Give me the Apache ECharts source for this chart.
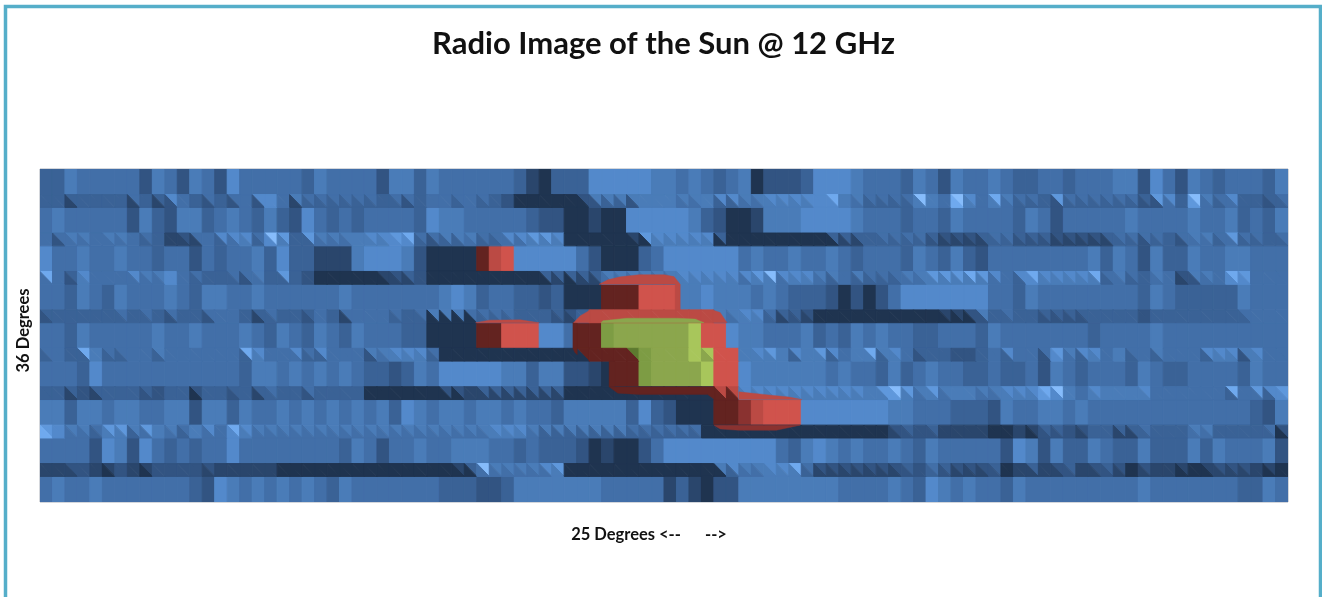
<!DOCTYPE html>
<html>
<head>
<meta charset="utf-8">
<style>
html,body{margin:0;padding:0;background:#fff;overflow:hidden}
#main{width:1322px;height:597px;filter:blur(0.7px)}
</style>
<script src="https://cdn.jsdelivr.net/npm/echarts@6/dist/echarts.min.js"></script>
</head>
<body>
<div id="main"></div>
<script>
// Shade levels, one character per grid column (100 columns).
// 0-9 blue band (dark to light), a-d red band, e-h green band.
const tall0="3354444425 4254264444 4354444255 3544444431 0333666665 5454345022 2366654443 5425445433 4434445526 4254344435";
const tall1="4544444253 2553454353 2643434444 3655444443 2200100666 6653200155 5666654443 4435444435 4244444544 4454453435";
const tall2="6445445443 4424344536 3311156665 20000acd66 6664200034 6666664544 5445434443 5435324444 4444535425 3354455444";
const tall3="4435435444 5435544544 4444544444 4456534433 23000aaadd d556555454 3332020246 6666664435 4444444435 4333335444";
const tall4="4435444445 4454445435 4354354443 30000aaddd 664aafgggg gghdd65544 4534354544 3344435444 4444344445 4444444444";
const tall5="4443644444 4444443554 5454543323 5466666553 552210aafg ggghdd6555 5554544353 4544334334 2543444354 3344443544";
const tall6="5535545544 5525535445 4545454536 5455455454 4355555363 2000aabcdd d666666655 4443332544 5545444444 4444444325";
const tall7="4444265264 3434464444 4444354244 5445554434 3332010024 6666666664 3565454454 3544444265 2533543353 3353544452";
const tall8="4544544444 4432654545 4543544444 4433322355 5555544444 1310225555 5555444454 3654544354 4444444454 4444443354";

const thinUp0="3333333433 6434344664 5444444344 3444443200 0002555555 5555665566 6668554444 9549648544 3744444437 6395463334";
const thinLo0="3313333131 2432324264 1333333332 3443433200 0000233255 5445334455 5566543333 5548545433 3233333322 4374343323";
const thinUp1="4455455443 1244666497 3755556678 4455544667 7600000176 6666300000 0003333444 4322234433 3222234444 3455474434";
const thinLo1="4244444433 1114345365 3344455566 3233433445 5500000005 5555000000 0000113333 3211113322 2111113323 3244343333";
const thinUp2="8436444655 6443344537 3200000123 2000000000 3333355555 5666666796 6655454445 5777876468 6666845435 4255487444";
const thinLo2="4425444444 6433332433 3200000011 2000000000 0101144444 4555554554 5543433334 4555554436 5555534334 4124466444";
const thinUp3="3333334343 4334443343 3343444443 4555444433 3323cccccc cccc556643 3200000000 0011253433 3333333323 3333334444";
const thinLo3="2333333333 2332443133 3243144433 3000033333 3213cccccc cccc445531 2100000000 0000023333 2222333323 3333333444";
const thinUp4="4438544445 4444448644 6464445566 6400000000 000aaaaefg gghhdd5675 6576458564 3332234644 4756645445 4446665644";
const thinLo4="3433533443 4444443544 4334442455 5300000000 0000aaaafg gghgdd5555 3553455354 2332234344 2643545343 4443552544";
const thinUp5="3332333332 3323333343 3433330000 0022133333 3300000000 0000cc6666 6666665797 5755555666 8954655564 4444484767";
const thinLo5="3312133322 3303323133 3233330000 0000111111 1100000000 0000aa5555 5555555575 4545544555 7654555554 4444434436";
const thinUp6="7655477575 5456486555 5555555555 5555556665 5555555444 4440000000 0000000023 2311110011 3322333343 3355333342";
const thinLo6="8644355345 4354465444 4444444444 4444445554 3333333333 3330000000 0000000012 2211110010 2221331133 3344333330";
const thinUp7="1122112112 2222111110 0000000000 0001395555 6700000000 0000565566 8422222223 2432223013 1231232021 1101222110";
const thinLo7="1112102102 2221111110 0000000000 0000044444 4500000000 0000034455 5311111112 2321112011 1121121011 1000111100";

// Curved band edges, in grid units (column, row height).
const capTopRed=[[44.8,9],[45.5,8.65],[46.5,8.42],[48,8.25],[50,8.25],[50.8,8.4],[51.3,9],[51.3,11],[50.9,11],[50.9,9]];
const capSmallRed=[[34.9,12],[36,11.8],[38.5,11.78],[40,12]];
const capRightRed=[[56,18],[56,17.4],[58,17.6],[60,17.8],[61.05,18]];
const bulgeLeftRed=[[42.7,12],[43.05,12],[43.05,14.5],[42.85,14.3],[42.7,14]];
const bulgeLowerRed=[[45.6,15],[46.05,15],[46.05,17],[45.6,17]];
const skirtRed=[[45.6,17],[46.3,17.5],[48,17.6],[53.5,17.6],[54.05,18],[54.05,17]];
const skirtRightRed=[[54,20],[54.5,20.3],[56,20.4],[59,20.4],[60.9,20]];
const capGreen=[[44.95,12],[45.1,11.85],[47,11.65],[51,11.65],[52.5,11.72],[53.2,12]];
const shoulderLeftRed=[[42.75,12],[43.3,11.45],[44.1,11],[44.1,12]];
const shoulderRightRed=[[53.9,11],[54.5,11.2],[55.05,12],[53.9,12]];

const shades={
  '0':'#1f3450','1':'#2a466c','2':'#325482','3':'#3a6296','4':'#426fa8','5':'#4a7cb8','6':'#5389cb','7':'#5f98dc','8':'#6fa9ee','9':'#86bcfb',
  a:'#632320',b:'#8a3230',c:'#bb4a44',d:'#d0534c',
  e:'#5d7a2f',f:'#7d9c44',g:'#8ba64d',h:'#a8c65b'
};
const talls=[tall0,tall1,tall2,tall3,tall4,tall5,tall6,tall7,tall8];
const thinsUp=[thinUp0,thinUp1,thinUp2,thinUp3,thinUp4,thinUp5,thinUp6,thinUp7];
const thinsLo=[thinLo0,thinLo1,thinLo2,thinLo3,thinLo4,thinLo5,thinLo6,thinLo7];
const levels=Object.keys(shades);
const clean=s=>s.replace(/\s/g,'');

const cells=[]; // [column, rowTop, kind(0 block,1 upper triangle,2 lower triangle), level index]
talls.forEach((row,r)=>{
  const t=clean(row);
  for(let c=0;c<100;c++)cells.push([c,r*3,0,levels.indexOf(t[c])]);
});
thinsUp.forEach((row,r)=>{
  const u=clean(row),l=clean(thinsLo[r]);
  for(let c=0;c<100;c++){
    cells.push([c,r*3+2,1,levels.indexOf(u[c])]);
    cells.push([c,r*3+2,2,levels.indexOf(l[c])]);
  }
});
const shapes=[
  {name:'top',pts:capTopRed,color:shades.c},
  {name:'small',pts:capSmallRed,color:shades.c},
  {name:'right',pts:capRightRed,color:shades.c},
  {name:'bulge',pts:bulgeLeftRed,color:shades.a},
  {name:'lower',pts:bulgeLowerRed,color:shades.a},
  {name:'skirt',pts:skirtRed,color:shades.a},
  {name:'skirtR',pts:skirtRightRed,color:shades.b},
  {name:'shoulderL',pts:shoulderLeftRed,color:shades.c},
  {name:'shoulderR',pts:shoulderRightRed,color:shades.c},
  {name:'green',pts:capGreen,color:shades.g}
];

const chart=echarts.init(document.getElementById('main'),null,{renderer:'canvas'});
chart.setOption({
  animation:false,
  backgroundColor:'#ffffff',
  title:{
    text:'Radio Image of the Sun @ 12 GHz',
    left:432,top:28,padding:0,
    textStyle:{fontFamily:'Lato',fontSize:31,fontWeight:'bold',color:'#111111'}
  },
  graphic:[{type:'rect',silent:true,z:-1,shape:{x:5.5,y:6.5,width:1315,height:640},
    style:{fill:'transparent',stroke:'#55aec9',lineWidth:3.5}}],
  grid:{left:40,top:169,width:1248,height:333,show:true,borderColor:'#a8aeb8',borderWidth:1,backgroundColor:'transparent'},
  xAxis:{type:'value',min:0,max:100,
    name:'25 Degrees <--      -->',nameLocation:'middle',nameGap:24,
    nameTextStyle:{fontFamily:'Lato',fontSize:16.5,fontWeight:'bold',color:'#111111',padding:[0,30,0,0]},
    axisLine:{show:false},axisTick:{show:false},axisLabel:{show:false},splitLine:{show:false}},
  yAxis:{type:'value',min:0,max:26,inverse:true,
    name:'36 Degrees',nameLocation:'middle',nameGap:8,
    nameTextStyle:{fontFamily:'Lato',fontSize:16.5,fontWeight:'bold',color:'#111111',padding:[0,0,0,10]},
    axisLine:{show:false},axisTick:{show:false},axisLabel:{show:false},splitLine:{show:false}},
  series:[
    {type:'custom',coordinateSystem:'cartesian2d',clip:true,silent:true,progressive:0,
     encode:{x:0,y:1},data:cells,
     renderItem(params,api){
       const c=api.value(0),y=api.value(1),k=api.value(2),col=shades[levels[api.value(3)]]||shades['4'];
       const h=k===0?2:1;
       const tl=api.coord([c,y]),tr=api.coord([c+1,y]),bl=api.coord([c,y+h]),br=api.coord([c+1,y+h]);
       const pts=k===0?[tl,tr,br,bl]:k===1?[tl,tr,br]:[tl,br,bl];
       return {type:'polygon',shape:{points:pts},style:{fill:col,stroke:col,lineWidth:1,lineJoin:'bevel'}};
     }},
    {type:'custom',coordinateSystem:'cartesian2d',clip:true,silent:true,z:3,
     encode:{x:0,y:1},data:shapes.map((s,i)=>[s.pts[0][0],s.pts[0][1],i]),
     renderItem(params,api){
       const s=shapes[api.value(2)];
       return {type:'polygon',shape:{points:s.pts.map(p=>api.coord(p))},style:{fill:s.color,stroke:s.color,lineWidth:0.4}};
     }}
  ]
});
</script>
</body>
</html>
